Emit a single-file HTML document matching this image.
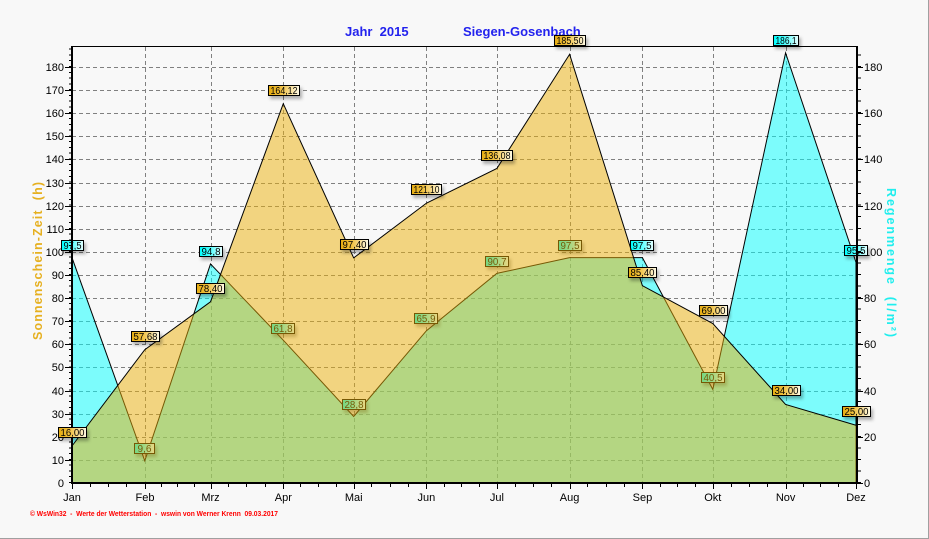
<!DOCTYPE html>
<html><head><meta charset="utf-8"><style>
html,body{margin:0;padding:0;background:#f8f8f8}
svg{display:block}
text{font-family:"Liberation Sans",Arial,sans-serif}
</style></head><body>
<svg width="929" height="539" viewBox="0 0 929 539" xmlns="http://www.w3.org/2000/svg">
<defs>
<linearGradient id="gg" x1="0" x2="1" y1="0" y2="0"><stop offset="0" stop-color="#e6ac10"/><stop offset="0.4" stop-color="#f0c040"/><stop offset="1" stop-color="#fffbe8"/></linearGradient>
<linearGradient id="cg" x1="0" x2="1" y1="0" y2="0"><stop offset="0" stop-color="#00ffff"/><stop offset="0.4" stop-color="#40ffff"/><stop offset="1" stop-color="#e8ffff"/></linearGradient>
<filter id="sh" x="-20%" y="-30%" width="160%" height="200%"><feDropShadow dx="2" dy="3" stdDeviation="1.5" flood-color="#000" flood-opacity="0.3"/></filter>
</defs>
<rect x="0" y="0" width="929" height="539" fill="#f8f8f8"/>
<line x1="0" y1="538.5" x2="929" y2="538.5" stroke="#a0a0a0"/>
<line x1="928.5" y1="0" x2="928.5" y2="539" stroke="#a0a0a0"/>

<!-- title -->
<text x="345" y="36" font-size="13" font-weight="bold" fill="#2222ee" xml:space="preserve">Jahr  2015</text>
<text x="463" y="36" font-size="13" font-weight="bold" fill="#2222ee">Siegen-Gosenbach</text>

<!-- grid -->
<g stroke="#808080" stroke-width="1" stroke-dasharray="4 3" shape-rendering="crispEdges">
<path d="M72 460.5H856M72 437.5H856M72 414.5H856M72 391.5H856M72 367.5H856M72 344.5H856M72 321.5H856M72 298.5H856M72 275.5H856M72 252.5H856M72 229.5H856M72 206.5H856M72 183.5H856M72 159.5H856M72 136.5H856M72 113.5H856M72 90.5H856M72 67.5H856"/>
<path d="M145.5 47V483M211.5 47V483M283.5 47V483M354.5 47V483M426.5 47V483M497.5 47V483M570.5 47V483M642.5 47V483M713.5 47V483M786.5 47V483"/>
</g>

<!-- rain area -->
<polygon points="72,483 72,257.67 144.77,460.81 210.5,263.91 283.27,340.17 353.68,416.44 426.45,330.7 496.86,273.38 569.63,257.67 642.39,257.67 712.81,389.4 785.58,52.9 856,262.29 856,483" fill="rgba(0,255,255,0.5)" stroke="#000" stroke-width="1"/>

<!-- tick labels -->
<g font-size="11" fill="#000" text-anchor="end">
<text x="64" y="487">0</text><text x="64" y="464">10</text><text x="64" y="441">20</text><text x="64" y="418">30</text><text x="64" y="395">40</text><text x="64" y="371">50</text><text x="64" y="348">60</text><text x="64" y="325">70</text><text x="64" y="302">80</text><text x="64" y="279">90</text><text x="64" y="256">100</text><text x="64" y="233">110</text><text x="64" y="210">120</text><text x="64" y="187">130</text><text x="64" y="163">140</text><text x="64" y="140">150</text><text x="64" y="117">160</text><text x="64" y="94">170</text><text x="64" y="71">180</text>
</g>
<g font-size="11" fill="#000">
<text x="864" y="487">0</text><text x="864" y="441">20</text><text x="864" y="395">40</text><text x="864" y="348">60</text><text x="864" y="302">80</text><text x="864" y="256">100</text><text x="864" y="210">120</text><text x="864" y="163">140</text><text x="864" y="117">160</text><text x="864" y="71">180</text>
</g>
<g font-size="11" fill="#000" text-anchor="middle">
<text x="72" y="501">Jan</text><text x="145" y="501">Feb</text><text x="210.5" y="501">Mrz</text><text x="283.3" y="501">Apr</text><text x="353.7" y="501">Mai</text><text x="426.4" y="501">Jun</text><text x="496.9" y="501">Jul</text><text x="569.6" y="501">Aug</text><text x="642.4" y="501">Sep</text><text x="712.8" y="501">Okt</text><text x="785.6" y="501">Nov</text><text x="856" y="501">Dez</text>
</g>

<!-- axis titles -->
<text transform="translate(42,261) rotate(-90)" text-anchor="middle" font-size="12.5" font-weight="bold" fill="#e6b020" textLength="158" lengthAdjust="spacing" xml:space="preserve">Sonnenschein-Zeit  (h)</text>
<text transform="translate(887,262.5) rotate(90)" text-anchor="middle" font-size="12.5" font-weight="bold" fill="#20eeee" textLength="149" lengthAdjust="spacing" xml:space="preserve">Regenmenge  (l/m²)</text>

<!-- rain labels -->
<g font-size="10" fill="#000" text-anchor="middle">
<rect x="61.5" y="240.5" width="22" height="10" fill="url(#cg)" stroke="#000" filter="url(#sh)"/><text x="72.5" y="249" textLength="18" lengthAdjust="spacingAndGlyphs">97,5</text>
<rect x="134.5" y="443.5" width="20" height="10" fill="url(#cg)" stroke="#000" filter="url(#sh)"/><text x="144.5" y="452" textLength="14" lengthAdjust="spacingAndGlyphs">9,6</text>
<rect x="199.5" y="246.5" width="23" height="10" fill="url(#cg)" stroke="#000" filter="url(#sh)"/><text x="211" y="255" textLength="19" lengthAdjust="spacingAndGlyphs">94,8</text>
<rect x="271.5" y="323.5" width="23" height="10" fill="url(#cg)" stroke="#000" filter="url(#sh)"/><text x="283" y="332" textLength="19" lengthAdjust="spacingAndGlyphs">61,8</text>
<rect x="342.5" y="399.5" width="23" height="10" fill="url(#cg)" stroke="#000" filter="url(#sh)"/><text x="354" y="408" textLength="19" lengthAdjust="spacingAndGlyphs">28,8</text>
<rect x="414.5" y="313.5" width="23" height="10" fill="url(#cg)" stroke="#000" filter="url(#sh)"/><text x="426" y="322" textLength="19" lengthAdjust="spacingAndGlyphs">65,9</text>
<rect x="485.5" y="256.5" width="23" height="10" fill="url(#cg)" stroke="#000" filter="url(#sh)"/><text x="497" y="265" textLength="19" lengthAdjust="spacingAndGlyphs">90,7</text>
<rect x="558.5" y="240.5" width="23" height="10" fill="url(#cg)" stroke="#000" filter="url(#sh)"/><text x="570" y="249" textLength="19" lengthAdjust="spacingAndGlyphs">97,5</text>
<rect x="630.5" y="240.5" width="23" height="10" fill="url(#cg)" stroke="#000" filter="url(#sh)"/><text x="642" y="249" textLength="19" lengthAdjust="spacingAndGlyphs">97,5</text>
<rect x="701.5" y="372.5" width="23" height="10" fill="url(#cg)" stroke="#000" filter="url(#sh)"/><text x="713" y="381" textLength="19" lengthAdjust="spacingAndGlyphs">40,5</text>
<rect x="773.5" y="35.5" width="25" height="10" fill="url(#cg)" stroke="#000" filter="url(#sh)"/><text x="786" y="44" textLength="21" lengthAdjust="spacingAndGlyphs">186,1</text>
<rect x="844.5" y="245.5" width="23" height="10" fill="url(#cg)" stroke="#000" filter="url(#sh)"/><text x="856" y="254" textLength="19" lengthAdjust="spacingAndGlyphs">95,5</text>
</g>

<!-- sunshine area -->
<polygon points="72,483 72,446 144.77,349.7 210.5,301.81 283.27,103.7 353.68,257.9 426.45,203.13 496.86,168.51 569.63,54.29 642.39,285.63 712.81,323.53 785.58,404.42 856,425.22 856,483" fill="rgba(236,176,8,0.5)" stroke="none"/>
<polyline points="72,446 144.77,349.7 210.5,301.81 283.27,103.7 353.68,257.9 426.45,203.13 496.86,168.51 569.63,54.29 642.39,285.63 712.81,323.53 785.58,404.42 856,425.22" fill="none" stroke="#000" stroke-width="1"/>

<!-- axes -->
<g stroke="#000" shape-rendering="crispEdges">
<line x1="72" y1="46" x2="72" y2="484" stroke-width="2"/>
<line x1="71" y1="483" x2="858" y2="483" stroke-width="2"/>
<line x1="857" y1="46" x2="857" y2="484" stroke-width="2"/>
<line x1="72" y1="46.5" x2="857" y2="46.5" stroke-width="1"/>
<path d="M70 483V47" stroke-width="2" stroke-dasharray="1 4.778"/>
<path d="M65 460.5H71M65 437.5H71M65 414.5H71M65 391.5H71M65 367.5H71M65 344.5H71M65 321.5H71M65 298.5H71M65 275.5H71M65 252.5H71M65 229.5H71M65 206.5H71M65 183.5H71M65 159.5H71M65 136.5H71M65 113.5H71M65 90.5H71M65 67.5H71" stroke-width="1"/>
<path d="M859.5 483V47" stroke-width="3" stroke-dasharray="1 10.556"/>
<path d="M858 483.5H863M858 437.5H863M858 391.5H863M858 344.5H863M858 298.5H863M858 252.5H863M858 206.5H863M858 159.5H863M858 113.5H863M858 67.5H863" stroke-width="1"/>
<path d="M72.5 484V489M145.5 484V489M211.5 484V489M283.5 484V489M354.5 484V489M426.5 484V489M497.5 484V489M570.5 484V489M642.5 484V489M713.5 484V489M786.5 484V489M856.5 484V489" stroke-width="1"/>
<path d="M90.5 484V487M108.5 484V487M126.5 484V487M161.5 484V487M177.5 484V487M194.5 484V487M228.5 484V487M246.5 484V487M265.5 484V487M300.5 484V487M318.5 484V487M336.5 484V487M371.5 484V487M390.5 484V487M408.5 484V487M444.5 484V487M461.5 484V487M479.5 484V487M515.5 484V487M533.5 484V487M551.5 484V487M587.5 484V487M606.5 484V487M624.5 484V487M660.5 484V487M677.5 484V487M695.5 484V487M731.5 484V487M749.5 484V487M767.5 484V487M803.5 484V487M820.5 484V487M838.5 484V487" stroke-width="1"/>
</g>

<!-- sunshine labels -->
<g font-size="10" fill="#000" text-anchor="middle">
<rect x="58.5" y="427.5" width="28" height="10" fill="url(#gg)" stroke="#000" filter="url(#sh)"/><text x="72.5" y="436" textLength="24" lengthAdjust="spacingAndGlyphs">16,00</text>
<rect x="131.5" y="331.5" width="28" height="10" fill="url(#gg)" stroke="#000" filter="url(#sh)"/><text x="145.5" y="340" textLength="24" lengthAdjust="spacingAndGlyphs">57,68</text>
<rect x="196.5" y="283.5" width="28" height="10" fill="url(#gg)" stroke="#000" filter="url(#sh)"/><text x="210.5" y="292" textLength="24" lengthAdjust="spacingAndGlyphs">78,40</text>
<rect x="268.5" y="85.5" width="31" height="10" fill="url(#gg)" stroke="#000" filter="url(#sh)"/><text x="284" y="94" textLength="27" lengthAdjust="spacingAndGlyphs">164,12</text>
<rect x="340.5" y="239.5" width="28" height="10" fill="url(#gg)" stroke="#000" filter="url(#sh)"/><text x="354.5" y="248" textLength="24" lengthAdjust="spacingAndGlyphs">97,40</text>
<rect x="411.5" y="184.5" width="30" height="10" fill="url(#gg)" stroke="#000" filter="url(#sh)"/><text x="426.5" y="193" textLength="26" lengthAdjust="spacingAndGlyphs">121,10</text>
<rect x="481.5" y="150.5" width="31" height="10" fill="url(#gg)" stroke="#000" filter="url(#sh)"/><text x="497" y="159" textLength="27" lengthAdjust="spacingAndGlyphs">136,08</text>
<rect x="554.5" y="35.5" width="31" height="10" fill="url(#gg)" stroke="#000" filter="url(#sh)"/><text x="570" y="44" textLength="27" lengthAdjust="spacingAndGlyphs">185,50</text>
<rect x="628.5" y="267.5" width="28" height="10" fill="url(#gg)" stroke="#000" filter="url(#sh)"/><text x="642.5" y="276" textLength="24" lengthAdjust="spacingAndGlyphs">85,40</text>
<rect x="699.5" y="305.5" width="28" height="10" fill="url(#gg)" stroke="#000" filter="url(#sh)"/><text x="713.5" y="314" textLength="24" lengthAdjust="spacingAndGlyphs">69,00</text>
<rect x="772.5" y="385.5" width="28" height="10" fill="url(#gg)" stroke="#000" filter="url(#sh)"/><text x="786.5" y="394" textLength="24" lengthAdjust="spacingAndGlyphs">34,00</text>
<rect x="842.5" y="406.5" width="28" height="10" fill="url(#gg)" stroke="#000" filter="url(#sh)"/><text x="856.5" y="415" textLength="24" lengthAdjust="spacingAndGlyphs">25,00</text>
</g>

<!-- footer -->
<text x="30" y="516" font-size="7.5" font-weight="bold" fill="#ff0000" textLength="248" lengthAdjust="spacingAndGlyphs" xml:space="preserve">© WsWin32  -  Werte der Wetterstation  -  wswin von Werner Krenn  09.03.2017</text>
</svg>
</body></html>
